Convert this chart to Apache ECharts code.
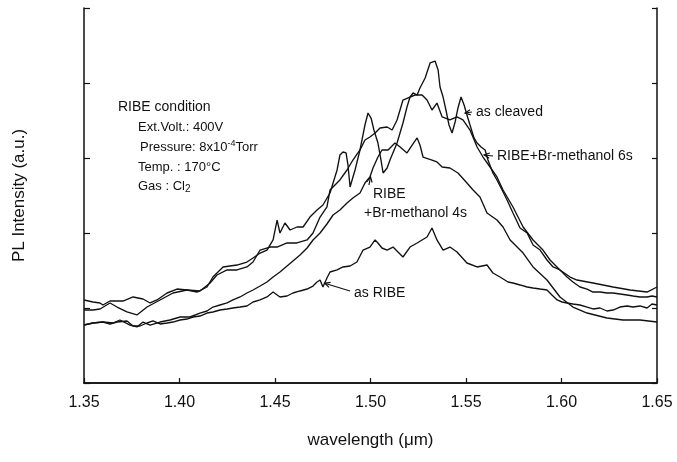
<!DOCTYPE html>
<html>
<head>
<meta charset="utf-8">
<script src="https://cdn.jsdelivr.net/npm/echarts@6/dist/echarts.min.js"></script>
<style>
  html, body { margin: 0; padding: 0; background: #fff; }
  #chart { width: 677px; height: 462px; }
</style>
</head>
<body>
<div id="chart"></div>
<script>
// PL spectra: [wavelength (µm), intensity (a.u.)]
const asCleaved = [
  [1.3500,1.107],[1.3547,1.080],[1.3584,1.067],[1.3599,1.040],[1.3636,1.093],[1.3673,1.093],[1.3704,1.093],
  [1.3757,1.147],[1.3809,1.120],[1.3846,1.067],[1.3882,1.107],[1.3935,1.200],[1.3987,1.253],[1.4039,1.240],
  [1.4092,1.213],[1.4144,1.280],[1.4175,1.413],[1.4228,1.547],[1.4264,1.560],[1.4301,1.573],[1.4353,1.613],
  [1.4385,1.667],[1.4422,1.733],[1.4458,1.773],[1.4490,1.907],[1.4511,2.173],[1.4526,2.000],[1.4552,2.133],
  [1.4579,2.040],[1.4615,2.080],[1.4647,2.080],[1.4683,2.213],[1.4720,2.307],[1.4751,2.373],[1.4788,2.533],
  [1.4804,2.667],[1.4825,2.840],[1.4840,3.040],[1.4856,3.080],[1.4872,3.067],[1.4882,2.907],[1.4893,2.613],
  [1.4919,2.840],[1.4945,3.107],[1.4971,3.440],[1.4987,3.600],[1.5003,3.533],[1.5018,3.373],[1.5039,3.200],
  [1.5055,2.973],[1.5066,2.800],[1.5087,2.867],[1.5102,2.973],[1.5139,3.200],[1.5170,3.467],[1.5191,3.680],
  [1.5207,3.813],[1.5223,3.867],[1.5244,3.840],[1.5259,3.933],[1.5286,4.067],[1.5312,4.267],[1.5338,4.293],
  [1.5354,4.173],[1.5364,3.947],[1.5380,3.813],[1.5395,3.640],[1.5411,3.440],[1.5427,3.333],[1.5443,3.480],
  [1.5458,3.667],[1.5474,3.813],[1.5490,3.707],[1.5505,3.573],[1.5521,3.440],[1.5542,3.267],[1.5558,3.200],
  [1.5579,3.147],[1.5600,3.107],[1.5615,2.973],[1.5641,2.800],[1.5662,2.707],[1.5689,2.573],[1.5715,2.440],
  [1.5746,2.267],[1.5783,2.067],[1.5820,2.000],[1.5851,1.840],[1.5888,1.773],[1.5924,1.640],[1.5956,1.547],
  [1.5992,1.507],[1.6029,1.413],[1.6060,1.347],[1.6097,1.280],[1.6134,1.253],[1.6165,1.213],[1.6202,1.213],
  [1.6238,1.200],[1.6270,1.200],[1.6306,1.187],[1.6343,1.173],[1.6375,1.160],[1.6411,1.147],[1.6448,1.147],
  [1.6474,1.160],[1.6500,1.147]
];

const brMethanol6s = [
  [1.3500,0.973],[1.3547,0.973],[1.3584,0.987],[1.3636,1.067],[1.3673,1.013],[1.3725,0.947],[1.3777,0.907],
  [1.3830,1.013],[1.3898,1.107],[1.3966,1.200],[1.4039,1.240],[1.4107,1.227],[1.4160,1.333],[1.4196,1.440],
  [1.4249,1.507],[1.4301,1.507],[1.4353,1.547],[1.4385,1.613],[1.4422,1.773],[1.4474,1.813],[1.4511,1.813],
  [1.4563,1.867],[1.4615,1.867],[1.4668,1.907],[1.4699,2.000],[1.4736,2.213],[1.4772,2.347],[1.4788,2.573],
  [1.4840,2.707],[1.4877,2.840],[1.4908,2.973],[1.4945,3.107],[1.4971,3.240],[1.4997,3.280],[1.5024,3.333],
  [1.5050,3.400],[1.5087,3.413],[1.5113,3.373],[1.5139,3.507],[1.5170,3.773],[1.5207,3.813],[1.5233,3.840],
  [1.5270,3.840],[1.5296,3.773],[1.5322,3.640],[1.5348,3.733],[1.5375,3.547],[1.5416,3.507],[1.5453,3.547],
  [1.5484,3.507],[1.5521,3.373],[1.5558,3.147],[1.5589,3.013],[1.5626,2.880],[1.5662,2.747],[1.5694,2.573],
  [1.5746,2.347],[1.5799,2.080],[1.5851,1.907],[1.5903,1.773],[1.5940,1.640],[1.5992,1.507],[1.6045,1.413],
  [1.6081,1.373],[1.6165,1.333],[1.6270,1.280],[1.6359,1.240],[1.6448,1.213],[1.6500,1.280]
];

const brMethanol4s = [
  [1.3500,0.773],[1.3547,0.800],[1.3599,0.813],[1.3652,0.800],[1.3688,0.840],[1.3741,0.773],[1.3777,0.747],
  [1.3809,0.813],[1.3846,0.773],[1.3898,0.813],[1.3950,0.840],[1.4003,0.880],[1.4055,0.880],[1.4107,0.933],
  [1.4144,0.960],[1.4175,1.013],[1.4212,1.040],[1.4249,1.067],[1.4280,1.107],[1.4317,1.147],[1.4353,1.200],
  [1.4385,1.240],[1.4422,1.293],[1.4458,1.347],[1.4490,1.413],[1.4526,1.480],[1.4563,1.560],[1.4594,1.627],
  [1.4631,1.707],[1.4668,1.800],[1.4699,1.907],[1.4736,2.000],[1.4772,2.120],[1.4804,2.240],[1.4840,2.307],
  [1.4877,2.400],[1.4908,2.467],[1.4945,2.533],[1.4971,2.667],[1.4997,2.747],[1.5013,2.867],[1.5039,3.013],
  [1.5060,3.107],[1.5092,3.107],[1.5128,3.200],[1.5155,3.147],[1.5191,3.067],[1.5218,3.173],[1.5244,3.267],
  [1.5259,3.173],[1.5275,3.013],[1.5322,2.973],[1.5348,2.947],[1.5375,2.880],[1.5416,2.867],[1.5458,2.800],
  [1.5505,2.667],[1.5537,2.573],[1.5573,2.480],[1.5610,2.267],[1.5662,2.173],[1.5694,2.080],[1.5731,1.907],
  [1.5799,1.733],[1.5851,1.547],[1.5924,1.373],[1.5992,1.147],[1.6060,1.013],[1.6134,0.933],[1.6238,0.867],
  [1.6322,0.840],[1.6411,0.840],[1.6500,0.813]
];

const asRIBE = [
  [1.3500,0.773],[1.3547,0.800],[1.3599,0.813],[1.3636,0.787],[1.3673,0.813],[1.3725,0.827],[1.3757,0.760],
  [1.3793,0.760],[1.3830,0.800],[1.3861,0.827],[1.3898,0.787],[1.3935,0.800],[1.3966,0.813],[1.4003,0.840],
  [1.4039,0.853],[1.4071,0.880],[1.4107,0.893],[1.4144,0.933],[1.4175,0.947],[1.4212,0.973],[1.4249,0.987],
  [1.4280,1.000],[1.4317,1.013],[1.4353,1.027],[1.4385,1.080],[1.4422,1.107],[1.4458,1.147],[1.4490,1.213],
  [1.4526,1.147],[1.4563,1.160],[1.4594,1.200],[1.4631,1.227],[1.4668,1.253],[1.4699,1.293],[1.4720,1.347],
  [1.4736,1.373],[1.4751,1.280],[1.4772,1.400],[1.4788,1.480],[1.4825,1.507],[1.4856,1.547],[1.4893,1.560],
  [1.4929,1.613],[1.4961,1.773],[1.4997,1.813],[1.5024,1.907],[1.5039,1.867],[1.5060,1.800],[1.5087,1.773],
  [1.5118,1.813],[1.5170,1.680],[1.5207,1.813],[1.5244,1.867],[1.5296,1.947],[1.5322,2.067],[1.5348,1.907],
  [1.5380,1.773],[1.5416,1.813],[1.5453,1.747],[1.5505,1.600],[1.5558,1.547],[1.5610,1.573],[1.5641,1.467],
  [1.5678,1.413],[1.5720,1.347],[1.5746,1.333],[1.5783,1.307],[1.5820,1.280],[1.5851,1.267],[1.5888,1.253],
  [1.5924,1.240],[1.5950,1.173],[1.5977,1.107],[1.6003,1.080],[1.6029,1.067],[1.6060,1.053],[1.6097,1.040],
  [1.6134,1.013],[1.6165,0.987],[1.6202,1.000],[1.6238,0.960],[1.6270,0.973],[1.6306,1.013],[1.6343,1.027],
  [1.6375,1.013],[1.6411,1.027],[1.6448,1.000],[1.6474,1.053],[1.6500,1.040]
];

const xTicks = [1.35, 1.40, 1.45, 1.50, 1.55, 1.60, 1.65];

// Curve labels: text, text position (px), arrow tip on the curve (data units)
const curveLabels = [
  { text: 'as cleaved', x: 476, y: 112, tip: [1.5495, 3.60] },
  { text: 'RIBE+Br-methanol 6s', x: 497, y: 156, tip: [1.5595, 3.04] },
  { text: 'RIBE', x: 373, y: 194, tip: [1.5000, 2.75] },
  { text: '+Br-methanol 4s', x: 364, y: 213, tip: null },
  { text: 'as RIBE', x: 354, y: 293, tip: [1.4760, 1.33] }
];

const conditionLines = [
  { text: 'RIBE condition', x: 118, y: 107 },
  { text: 'Ext.Volt.: 400V', x: 138, y: 127 },
  { text: 'Pressure: 8x10', sup: '-4', tail: 'Torr', x: 140, y: 147 },
  { text: 'Temp. : 170\u00b0C', x: 138, y: 167 },
  { text: 'Gas : Cl', sub: '2', x: 138, y: 186 }
];

const FONT = '"Liberation Sans", Arial, sans-serif';
const INK = '#111';

const chart = echarts.init(document.getElementById('chart'), null, { renderer: 'canvas' });

const lineSeries = (name, data) => ({
  name, type: 'line', data, showSymbol: false, symbol: 'none', smooth: false,
  lineStyle: { color: INK, width: 1.35 }, silent: true, animation: false,
  xAxisIndex: 0, yAxisIndex: 0
});

const option = {
  backgroundColor: '#fff',
  animation: false,
  grid: { left: 84, right: 20, top: 8, bottom: 79, containLabel: false },
  xAxis: [
    {
      type: 'value', min: 1.35, max: 1.65, interval: 0.05, position: 'bottom',
      name: 'wavelength (\u03bcm)', nameLocation: 'middle', nameGap: 49,
      nameTextStyle: { fontFamily: FONT, fontSize: 17, color: INK },
      axisLine: { lineStyle: { color: INK, width: 1.5 } },
      axisTick: { inside: true, length: 5, lineStyle: { color: INK, width: 1.2 } },
      axisLabel: {
        fontFamily: FONT, fontSize: 16, color: INK, margin: 12,
        formatter: v => xTicks.find(t => Math.abs(t - v) < 1e-6)?.toFixed(2) ?? ''
      },
      splitLine: { show: false }
    },
    {
      type: 'value', min: 1.35, max: 1.65, interval: 0.05, position: 'top',
      axisLine: { lineStyle: { color: INK, width: 1.5 } },
      axisTick: { show: false }, axisLabel: { show: false }, splitLine: { show: false }
    }
  ],
  yAxis: [
    {
      type: 'value', min: 0, max: 5, interval: 1, position: 'left',
      name: 'PL Intensity (a.u.)', nameLocation: 'middle', nameGap: 56, nameRotate: 90,
      nameTextStyle: { fontFamily: FONT, fontSize: 17, color: INK },
      axisLine: { show: true, lineStyle: { color: INK, width: 1.5 } },
      axisTick: { inside: true, length: 6, lineStyle: { color: INK, width: 1.2 } },
      axisLabel: { show: false }, splitLine: { show: false }
    },
    {
      type: 'value', min: 0, max: 5, interval: 1, position: 'right',
      axisLine: { show: true, lineStyle: { color: INK, width: 1.5 } },
      axisTick: { inside: true, length: 5, lineStyle: { color: INK, width: 1.2 } },
      axisLabel: { show: false }, splitLine: { show: false }
    }
  ],
  series: [
    lineSeries('as cleaved', asCleaved),
    lineSeries('RIBE+Br-methanol 6s', brMethanol6s),
    lineSeries('RIBE+Br-methanol 4s', brMethanol4s),
    lineSeries('as RIBE', asRIBE)
  ]
};

chart.setOption(option);

// Text annotations and arrows drawn on top of the plot
function buildGraphics() {
  const elements = [];
  const textStyle = (text, x, y, size) => ({
    type: 'text', x, y, silent: true,
    style: { text, fontFamily: FONT, fontSize: size, fill: INK, textVerticalAlign: 'middle' }
  });

  conditionLines.forEach(l => {
    if (l.sup) {
      elements.push({
        type: 'text', x: l.x, y: l.y, silent: true,
        style: {
          text: '{a|' + l.text + '}{s|' + l.sup + '}{a|' + l.tail + '}',
          fontFamily: FONT, textVerticalAlign: 'middle',
          rich: {
            a: { fontFamily: FONT, fontSize: 13, fill: INK, color: INK },
            s: { fontFamily: FONT, fontSize: 9, fill: INK, color: INK, verticalAlign: 'top', padding: [0, 0, 6, 0] }
          }
        }
      });
    } else if (l.sub) {
      elements.push({
        type: 'text', x: l.x, y: l.y, silent: true,
        style: {
          text: '{a|' + l.text + '}{b|' + l.sub + '}',
          fontFamily: FONT, textVerticalAlign: 'middle',
          rich: {
            a: { fontFamily: FONT, fontSize: 13, fill: INK, color: INK },
            b: { fontFamily: FONT, fontSize: 10, fill: INK, color: INK, padding: [6, 0, 0, 0] }
          }
        }
      });
    } else {
      elements.push(textStyle(l.text, l.x, l.y, l.text === 'RIBE condition' ? 14 : 13));
    }
  });

  curveLabels.forEach(l => {
    elements.push(textStyle(l.text, l.x, l.y, 14));
    if (l.tip) {
      const tip = chart.convertToPixel({ xAxisIndex: 0, yAxisIndex: 0 }, l.tip);
      const tail = [l.x - 4, l.y];
      if (l.text === 'RIBE') tail[1] = l.y - 9;
      if (l.text === 'as RIBE') tail[1] = l.y - 2;
      const ang = Math.atan2(tip[1] - tail[1], tip[0] - tail[0]);
      const h = 6;
      elements.push({
        type: 'polyline', silent: true,
        shape: { points: [tail, tip] },
        style: { stroke: INK, lineWidth: 1.2, fill: null }
      });
      elements.push({
        type: 'polyline', silent: true,
        shape: {
          points: [
            [tip[0] - h * Math.cos(ang - 0.45), tip[1] - h * Math.sin(ang - 0.45)],
            tip,
            [tip[0] - h * Math.cos(ang + 0.45), tip[1] - h * Math.sin(ang + 0.45)]
          ]
        },
        style: { stroke: INK, lineWidth: 1.2, fill: null }
      });
    }
  });
  return elements;
}

chart.setOption({ graphic: { elements: buildGraphics() } });
</script>
</body>
</html>
